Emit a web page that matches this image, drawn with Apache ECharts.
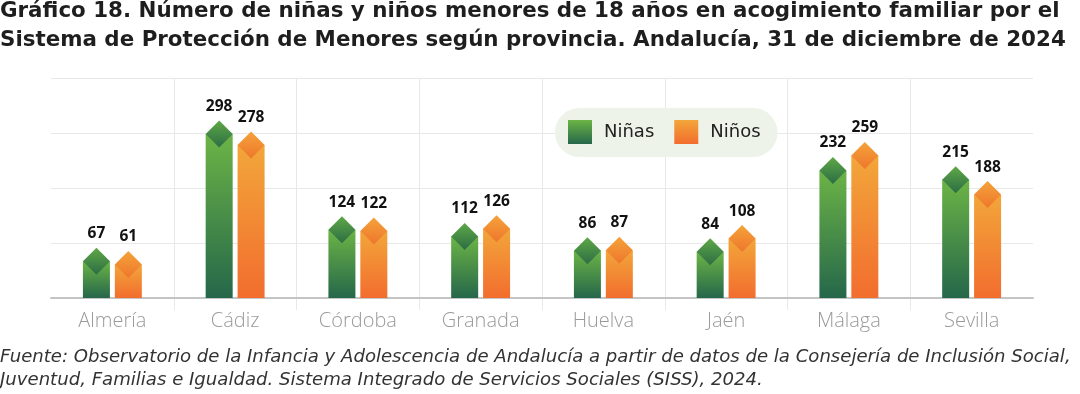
<!DOCTYPE html>
<html>
<head>
<meta charset="utf-8">
<script src="https://cdn.jsdelivr.net/npm/echarts@6/dist/echarts.min.js"></script>
<style>
  html, body { margin: 0; padding: 0; background: #fff; }
  #chart { width: 1080px; height: 394px; }
</style>
</head>
<body>
<div id="chart"></div>
<script>
const titleText = 'Gráfico 18. Número de niñas y niños menores de 18 años en acogimiento familiar por el\nSistema de Protección de Menores según provincia. Andalucía, 31 de diciembre de 2024';
const sourceText = 'Fuente: Observatorio de la Infancia y Adolescencia de Andalucía a partir de datos de la Consejería de Inclusión Social,\nJuventud, Familias e Igualdad. Sistema Integrado de Servicios Sociales (SISS), 2024.';
const categories = ['Almería', 'Cádiz', 'Córdoba', 'Granada', 'Huelva', 'Jaén', 'Málaga', 'Sevilla'];
const seriesNames = ['Niñas', 'Niños'];
const ninas = [67, 298, 124, 112, 86, 84, 232, 215];
const ninos = [61, 278, 122, 126, 87, 108, 259, 188];

const G = echarts.graphic.LinearGradient;
const styles = [
  { bar: ['#6cb446', '#25674a'], diamond: ['#5fa846', '#2c6d45'] },
  { bar: ['#f2a63a', '#f26d2e'], diamond: ['#f5a33a', '#ee762c'] }
];

function makeRender(sign, st) {
  return function (params, api) {
    const i = api.value(0), v = api.value(1);
    const base = api.coord([i, 0]);
    const top = api.coord([i, v]);
    const band = api.size([1, 0])[0];
    const bw = band * 0.22;
    const cx = base[0] + sign * band * 0.13;
    const h = bw / 2;
    return {
      type: 'group',
      children: [
        { type: 'rect', shape: { x: cx - bw / 2, y: top[1], width: bw, height: base[1] - top[1] },
          style: { fill: new G(0, 0, 0, 1, [{ offset: 0, color: st.bar[0] }, { offset: 1, color: st.bar[1] }]) } },
        { type: 'polygon', shape: { points: [[cx, top[1] - h], [cx + bw / 2, top[1]], [cx, top[1] + h], [cx - bw / 2, top[1]]] },
          style: { fill: new G(0, 0, 0, 1, [{ offset: 0, color: st.diamond[0] }, { offset: 1, color: st.diamond[1] }]) } },
        { type: 'text', x: cx, y: top[1] - h - 14,
          style: { text: String(v), fill: '#111', font: 'bold 15.5px "Open Sans"', align: 'center', verticalAlign: 'middle' } }
      ]
    };
  };
}

const chart = echarts.init(document.getElementById('chart'), null, { renderer: 'canvas' });
chart.setOption({
  animation: false,
  backgroundColor: '#ffffff',
  title: [
    { text: titleText, left: 0, top: -3, padding: 0,
      textStyle: { fontFamily: 'DejaVu Sans', fontWeight: 'bold', fontSize: 21.4, lineHeight: 29, color: '#1e1e1e' } },
    { text: sourceText, left: 0, top: 346, padding: 0,
      textStyle: { fontFamily: 'DejaVu Sans', fontStyle: 'italic', fontWeight: 'normal', fontSize: 18.1, lineHeight: 23, color: '#333333' } }
  ],
  legend: {
    left: 555, top: 108, padding: [12, 17, 13, 13],
    backgroundColor: '#eef3e9', borderRadius: 25,
    itemWidth: 24, itemHeight: 24, itemGap: 20, icon: 'rect',
    textStyle: { fontFamily: 'DejaVu Sans', fontSize: 18, color: '#222', padding: [0, 0, 0, 7] },
    data: seriesNames
  },
  grid: [
    { left: 51, right: 47, top: 78, bottom: 96 },
    { left: 51, right: 47, top: 78, bottom: 84 }
  ],
  xAxis: [
    { type: 'category', gridIndex: 0, data: categories,
      axisLine: { lineStyle: { color: '#c4c4c4', width: 2 } },
      axisTick: { show: false },
      axisLabel: { fontFamily: 'Open Sans', fontWeight: 300, fontSize: 20, color: '#9a9a9a', margin: 13 },
      splitLine: { show: false } },
    { type: 'category', gridIndex: 1, boundaryGap: false, data: categories.concat(['']),
      axisLine: { show: false }, axisTick: { show: false }, axisLabel: { show: false },
      splitLine: { show: true, interval: function (i) { return i > 0 && i < categories.length; },
        lineStyle: { color: '#e8e8e8', width: 1 } } }
  ],
  yAxis: [
    { type: 'value', gridIndex: 0, min: 0, max: 400, interval: 100,
      axisLabel: { show: false }, axisLine: { show: false }, axisTick: { show: false },
      splitLine: { lineStyle: { color: '#e8e8e8', width: 1 } } },
    { type: 'value', gridIndex: 1, show: false, min: 0, max: 400, splitLine: { show: false } }
  ],
  series: [
    { name: seriesNames[0], type: 'custom', xAxisIndex: 0, yAxisIndex: 0, z: 3,
      itemStyle: { color: new G(0, 0, 0, 1, [{ offset: 0, color: styles[0].bar[0] }, { offset: 1, color: styles[0].bar[1] }]) },
      renderItem: makeRender(-1, styles[0]),
      encode: { x: 0, y: 1 },
      data: ninas.map(function (v, i) { return [i, v]; }) },
    { name: seriesNames[1], type: 'custom', xAxisIndex: 0, yAxisIndex: 0, z: 3,
      itemStyle: { color: new G(0, 0, 0, 1, [{ offset: 0, color: styles[1].bar[0] }, { offset: 1, color: styles[1].bar[1] }]) },
      renderItem: makeRender(1, styles[1]),
      encode: { x: 0, y: 1 },
      data: ninos.map(function (v, i) { return [i, v]; }) }
  ]
});
</script>
</body>
</html>
